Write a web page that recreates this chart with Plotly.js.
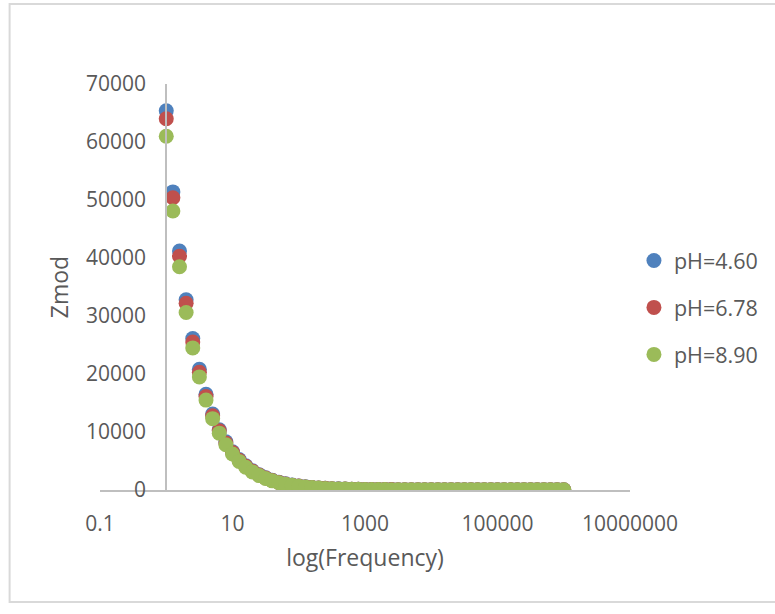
<!DOCTYPE html>
<html>
<head>
<meta charset="utf-8">
<script src="https://cdn.plot.ly/plotly-3.0.1.min.js"></script>
<style>html,body{margin:0;padding:0;background:#fff;}#chart{width:775px;height:614px;}</style>
</head>
<body>
<div id="chart"></div>
<script>
// Frequency (Hz), 10 points per decade
const frequency = [1, 1.259, 1.585, 1.995, 2.512, 3.162, 3.981, 5.012, 6.310, 7.943,
  10, 12.59, 15.85, 19.95, 25.12, 31.62, 39.81, 50.12, 63.10, 79.43,
  100, 125.9, 158.5, 199.5, 251.2, 316.2, 398.1, 501.2, 631.0, 794.3,
  1000, 1259, 1585, 1995, 2512, 3162, 3981, 5012, 6310, 7943,
  10000, 12590, 15850, 19950, 25120, 31620, 39810, 50120, 63100, 79430,
  100000, 125900, 158500, 199500, 251200, 316200, 398100, 501200, 631000, 794300,
  1000000];

const zmodPH460 = [65400, 51400, 41200, 32800, 26100, 20800, 16500, 13100, 10400, 8300,
  6600, 5250, 4180, 3330, 2650, 2110, 1680, 1340, 1070, 855,
  685, 550, 442, 357, 290, 237, 196, 163, 138, 118,
  102, 90, 80, 72, 66, 61, 57, 54, 51, 49,
  47, 45.5, 44, 43, 42, 41, 40.5, 40, 39.5, 39,
  38.5, 38, 37.5, 37, 36.5, 36, 35.5, 35, 34.5, 34,
  33.5];

const zmodPH678 = [64000, 50400, 40300, 32200, 25500, 20300, 16100, 12800, 10200, 8100,
  6450, 5130, 4080, 3250, 2590, 2060, 1640, 1310, 1045, 835,
  670, 538, 432, 349, 284, 232, 192, 160, 135, 116,
  100, 88, 79, 71, 65, 60, 56, 53, 50, 48,
  46, 44.5, 43, 42, 41, 40, 39.5, 39, 38.5, 38,
  37.5, 37, 36.5, 36, 35.5, 35, 34.5, 34, 33.5, 33,
  32.5];

const zmodPH890 = [61000, 48100, 38500, 30600, 24500, 19500, 15500, 12300, 9800, 7800,
  6200, 4930, 3920, 3120, 2490, 1980, 1580, 1260, 1005, 805,
  645, 518, 417, 337, 274, 224, 186, 155, 131, 112,
  97, 85, 76, 69, 63, 58, 54, 51, 48, 46,
  44, 42.5, 41, 40, 39, 38, 37.5, 37, 36.5, 36,
  35.5, 35, 34.5, 34, 33.5, 33, 32.5, 32, 31.5, 31,
  30.5];

const seriesNames = ["pH=4.60", "pH=6.78", "pH=8.90"];
const seriesColors = ["#4F81BD", "#C0504D", "#9BBB59"];
const xTickVals = [0.1, 10, 1000, 100000, 10000000];
const xTickText = ["0.1", "10", "1000", "100000", "10000000"];
const yTickVals = [0, 10000, 20000, 30000, 40000, 50000, 60000, 70000];

const seriesValues = [zmodPH460, zmodPH678, zmodPH890];
const traces = seriesValues.map((vals, i) => ({
  type: "scatter",
  mode: "markers",
  x: frequency,
  y: vals,
  name: seriesNames[i],
  legendgroup: "g" + i,
  marker: { color: seriesColors[i], size: 15 },
  hoverinfo: "x+y+name"
}));

const font = "'Open Sans', 'Liberation Sans', sans-serif";
const textColor = "#595959";

// plot area: x 99.5..636, y 84..490
const L = 99.5, R = 636, T = 84, B = 490, W = 775, H = 614;
const pw = R - L, ph = B - T;
const px = v => (v - L) / pw;
const py = v => (B - v) / ph;

const layout = {
  width: W, height: H,
  margin: { l: L, r: W - R, t: T, b: H - B, pad: 0 },
  paper_bgcolor: "#ffffff",
  plot_bgcolor: "#ffffff",
  font: { family: font, color: textColor, size: 21 },
  showlegend: true,
  legend: {
    x: px(640), xanchor: "left",
    y: py(240), yanchor: "top",
    font: { family: font, size: 21.5, color: textColor },
    itemwidth: 30,
    tracegroupgap: 16,
    bgcolor: "rgba(0,0,0,0)"
  },
  xaxis: {
    type: "log",
    range: [-1, 7],
    tickvals: xTickVals,
    ticktext: xTickText,
    ticks: "",
    ticklabelstandoff: 14,
    showgrid: false,
    zeroline: false,
    showline: true,
    linecolor: "#BFBFBF",
    linewidth: 2,
    tickfont: { family: font, size: 21, color: textColor },
    title: { text: "log(Frequency)", font: { family: font, size: 23, color: textColor }, standoff: 14 }
  },
  yaxis: {
    range: [0, 70000],
    tickvals: yTickVals,
    tickformat: "d",
    ticks: "",
    anchor: "free",
    position: px(166.5),
    ticklabelstandoff: 15,
    showgrid: false,
    zeroline: false,
    showline: true,
    linecolor: "#BFBFBF",
    linewidth: 2,
    tickfont: { family: font, size: 21, color: textColor },
    title: { text: "Zmod", font: { family: font, size: 23, color: textColor }, standoff: 10 }
  },
  shapes: [{
    type: "rect", xref: "paper", yref: "paper",
    x0: px(8), x1: px(820), y0: py(602), y1: py(4),
    line: { color: "#D9D9D9", width: 2 },
    fillcolor: "rgba(0,0,0,0)",
    layer: "below"
  }]
};

Plotly.newPlot("chart", traces, layout, { displayModeBar: false, staticPlot: true });
</script>
</body>
</html>
